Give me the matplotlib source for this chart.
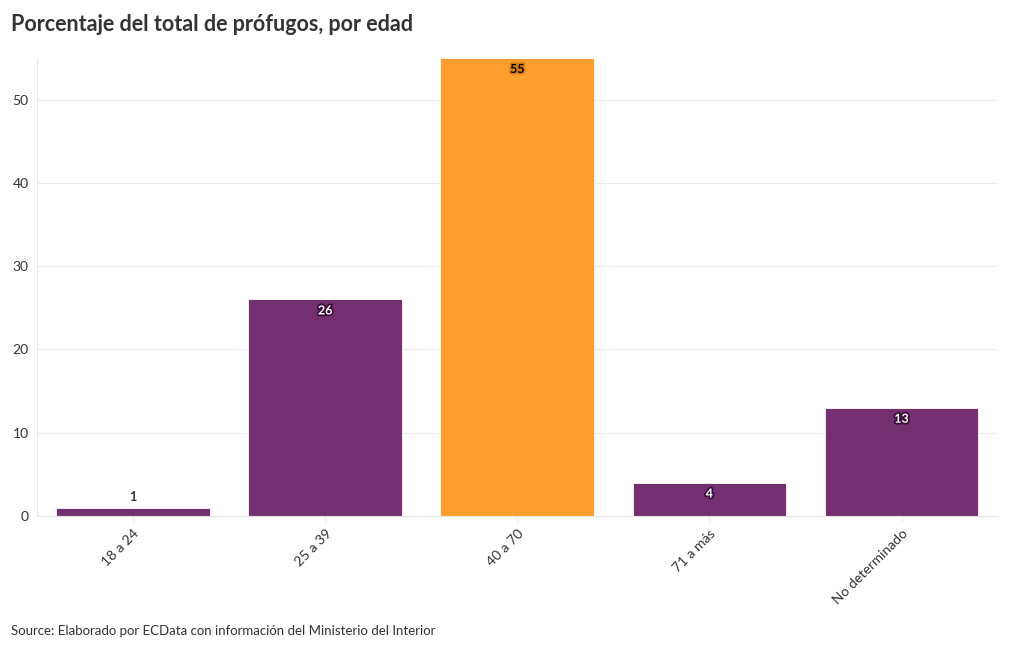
import matplotlib.pyplot as plt
import matplotlib.patheffects as pe

# Data
categories = ["18 a 24", "25 a 39", "40 a 70", "71 a más", "No determinado"]
values = [1, 26, 55, 4, 13]
highlight = "40 a 70"

purple = "#732f70"
orange = "#ff9e2f"
text_col = "#333333"

plt.rcParams['font.family'] = ['Lato', 'DejaVu Sans']

fig = plt.figure(figsize=(10.2, 6.5), dpi=100)
ax = fig.add_axes([0.0363, 0.2062, 0.9417, 0.7046])

colors = [orange if c == highlight else purple for c in categories]
x = range(len(categories))
bars = ax.bar(x, values, width=0.8, color=colors, edgecolor="white", linewidth=0.6, zorder=2)

# Value labels
for i, (b, v) in enumerate(zip(bars, values)):
    cx = b.get_x() + b.get_width() / 2
    if v < 3:
        ax.text(cx, v + 0.6, str(v), ha="center", va="bottom", fontsize=9,
                fontweight="bold", color=text_col, zorder=3)
    elif categories[i] == highlight:
        ax.text(cx, v - 0.6, str(v), ha="center", va="top", fontsize=9,
                fontweight="bold", color="black", zorder=3,
                path_effects=[pe.withStroke(linewidth=2.5, foreground="#d97e10")])
    else:
        ax.text(cx, v - 0.6, str(v), ha="center", va="top", fontsize=9,
                fontweight="bold", color="white", zorder=3,
                path_effects=[pe.withStroke(linewidth=2.5, foreground="#3a0a38")])

ax.set_xlim(-0.5, len(categories) - 0.5)
ax.set_ylim(0, 55)
ax.set_yticks([0, 10, 20, 30, 40, 50])
ax.set_xticks(list(x))
ax.set_xticklabels(categories, rotation=45, ha="right", rotation_mode="anchor",
                   fontsize=10, color=text_col)
ax.tick_params(axis="y", labelsize=10, labelcolor=text_col, length=0, pad=6)
ax.tick_params(axis="x", length=4, color="#e6e6e6", pad=4)
ax.grid(axis="y", color="#ececec", linewidth=0.8, zorder=0)
for s in ["top", "right"]:
    ax.spines[s].set_visible(False)
ax.spines["left"].set_color("#e6e6e6")
ax.spines["bottom"].set_color("#e6e6e6")

fig.text(0.011, 0.962, "Porcentaje del total de prófugos, por edad", fontsize=15.5,
         fontweight="bold", color=text_col, ha="left", va="center")
fig.text(0.011, 0.029, "Source: Elaborado por ECData con información del Ministerio del Interior",
         fontsize=9.5, color=text_col, ha="left", va="center")

fig.savefig("out.png", dpi=100)
